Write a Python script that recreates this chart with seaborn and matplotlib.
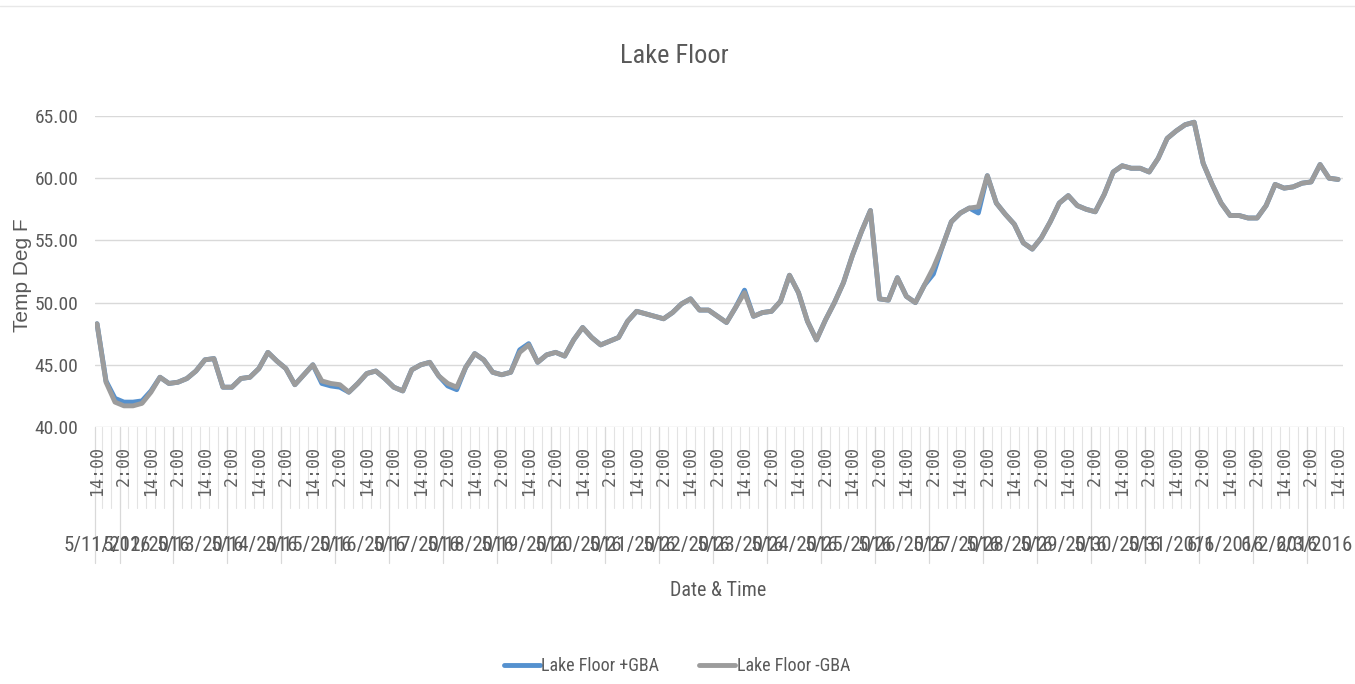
import numpy as np
import pandas as pd
import matplotlib
matplotlib.use("Agg")
import matplotlib.pyplot as plt
from matplotlib import font_manager
from matplotlib.lines import Line2D
from matplotlib.transforms import blended_transform_factory
import seaborn as sns

# Lake floor temperature (deg F), one reading every 4 hours from 5/11/2016 14:00
start_time = "2016-05-11 14:00"
step = "4h"
temp_minus_gba = [
    48.3, 43.6, 42.0, 41.7, 41.7, 41.9, 42.8, 44.0, 43.5, 43.6,
    43.9, 44.5, 45.4, 45.5, 43.2, 43.2, 43.9, 44.0, 44.7, 46.0,
    45.3, 44.7, 43.4, 44.2, 45.0, 43.7, 43.5, 43.4, 42.8, 43.5,
    44.3, 44.5, 43.9, 43.2, 42.9, 44.6, 45.0, 45.2, 44.1, 43.5,
    43.2, 44.8, 45.9, 45.4, 44.4, 44.2, 44.4, 46.0, 46.6, 45.2,
    45.8, 46.0, 45.7, 47.0, 48.0, 47.2, 46.6, 46.9, 47.2, 48.5,
    49.3, 49.1, 48.9, 48.7, 49.2, 49.9, 50.3, 49.4, 49.4, 48.9,
    48.4, 49.6, 50.8, 48.9, 49.2, 49.3, 50.1, 52.2, 50.8, 48.5,
    47.0, 48.6, 50.0, 51.6, 53.8, 55.7, 57.4, 50.3, 50.2, 52.0,
    50.5, 50.0, 51.4, 52.8, 54.5, 56.5, 57.2, 57.6, 57.7, 60.2,
    58.0, 57.1, 56.3, 54.8, 54.3, 55.2, 56.5, 58.0, 58.6, 57.8,
    57.5, 57.3, 58.7, 60.5, 61.0, 60.8, 60.8, 60.5, 61.6, 63.2,
    63.8, 64.3, 64.5, 61.2, 59.5, 58.0, 57.0, 57.0, 56.8, 56.8,
    57.8, 59.5, 59.2, 59.3, 59.6, 59.7, 61.1, 60.0, 59.9,
]
temp_plus_gba = [
    48.3, 43.7, 42.3, 42.0, 42.0, 42.1, 42.9, 44.0, 43.5, 43.6,
    43.9, 44.5, 45.4, 45.5, 43.2, 43.2, 43.9, 44.0, 44.7, 46.0,
    45.3, 44.7, 43.4, 44.2, 45.0, 43.5, 43.3, 43.2, 42.8, 43.5,
    44.3, 44.5, 43.9, 43.2, 42.9, 44.6, 45.0, 45.2, 44.1, 43.3,
    43.0, 44.8, 45.9, 45.4, 44.4, 44.2, 44.4, 46.2, 46.7, 45.2,
    45.8, 46.0, 45.7, 47.0, 48.0, 47.2, 46.6, 46.9, 47.2, 48.5,
    49.3, 49.1, 48.9, 48.7, 49.2, 49.9, 50.3, 49.4, 49.4, 48.9,
    48.4, 49.6, 51.0, 48.9, 49.2, 49.3, 50.1, 52.2, 50.8, 48.5,
    47.0, 48.6, 50.0, 51.6, 53.8, 55.7, 57.4, 50.3, 50.2, 52.0,
    50.5, 50.0, 51.4, 52.3, 54.5, 56.5, 57.2, 57.6, 57.2, 60.2,
    58.0, 57.1, 56.3, 54.8, 54.3, 55.2, 56.5, 58.0, 58.6, 57.8,
    57.5, 57.3, 58.7, 60.5, 61.0, 60.8, 60.8, 60.5, 61.6, 63.2,
    63.8, 64.3, 64.5, 61.2, 59.5, 58.0, 57.0, 57.0, 56.8, 56.8,
    57.8, 59.5, 59.2, 59.3, 59.6, 59.7, 61.1, 60.0, 59.9,
]
series_names = ["Lake Floor +GBA", "Lake Floor -GBA"]
series_colors = ["#5591cf", "#9c9c9c"]
y_ticks = [40, 45, 50, 55, 60, 65]
label_hours = [2, 14]

sns.set_theme(style="white")

available = {f.name for f in font_manager.fontManager.ttflist}
candidates = ["Liberation Sans Narrow", "Roboto Condensed", "Open Sans Condensed",
              "DejaVu Sans Condensed", "Arial Narrow", "Roboto", "Lato"]
narrow = next((c for c in candidates if c in available), "DejaVu Sans")
is_narrow = narrow in candidates[:5]
plt.rcParams["font.family"] = [narrow, "DejaVu Sans"]
k = 1.0 if is_narrow else 0.86  # size factor for wider faces

times = pd.date_range(start_time, periods=len(temp_minus_gba), freq=step)
t0 = times[0]
hours = (times - t0) / pd.Timedelta(hours=1)

df = pd.concat([
    pd.DataFrame({"hours": hours, "temp": temp_plus_gba, "series": series_names[0]}),
    pd.DataFrame({"hours": hours, "temp": temp_minus_gba, "series": series_names[1]}),
])

W, H = 1355, 684
fig = plt.figure(figsize=(W / 100, H / 100), dpi=100)
ax = fig.add_axes([95 / W, 1 - 427 / H, (1343 - 95) / W, (427 - 116) / H])

sns.lineplot(data=df, x="hours", y="temp", hue="series", hue_order=series_names,
             palette=series_colors, linewidth=3.5, legend=False, ax=ax,
             solid_joinstyle="round", solid_capstyle="round")

x_min, x_max = -0.9, hours[-1] + 2.2
ax.set_xlim(x_min, x_max)
ax.set_ylim(40, 65)
ax.set_yticks(y_ticks)
ax.set_yticklabels([f"{v:.2f}" for v in y_ticks], fontsize=14 * k, color="#595959")
ax.tick_params(axis="y", length=0, pad=12)
ax.set_xticks([])
ax.set_xlabel("")
ax.set_ylabel("")
for s in ax.spines.values():
    s.set_visible(False)
for v in y_ticks:
    ax.axhline(v, color="#d9d9d9", lw=1.0, zorder=0)

# category axis: time labels, tick lines and date groups
tr = blended_transform_factory(ax.transData, fig.transFigure)
fy = lambda px: 1 - px / H
for h, ts in zip(hours, times):
    if ts.minute == 0 and ts.hour in label_hours:
        ax.text(h, fy(446), f"{ts.hour}:00", transform=tr, rotation=90,
                ha="center", va="top", fontsize=12, color="#606060",
                family="DejaVu Sans Mono", clip_on=False)
    ax.add_line(Line2D([h + 2, h + 2], [fy(427), fy(508)], transform=tr,
                       color="#e3e3e3", lw=0.8, clip_on=False))

days = pd.date_range(t0.normalize(), times[-1].normalize(), freq="D")
for i, d in enumerate(days):
    a = max((d - t0) / pd.Timedelta(hours=1), x_min)
    b = min((d + pd.Timedelta(days=1) - t0) / pd.Timedelta(hours=1), x_max)
    ax.add_line(Line2D([a, a], [fy(427), fy(563)], transform=tr,
                       color="#d9d9d9", lw=0.9, clip_on=False))
    label = f"{d.month}/{d.day}/{d.year}"
    if i == len(days) - 1:
        # last group is narrow: keep its label inside the figure
        ax.annotate(label, xy=(b, fy(546)), xycoords=tr, xytext=(7, 0),
                    textcoords="offset points", ha="right", va="center",
                    fontsize=15 * k, color="#595959", annotation_clip=False)
    else:
        ax.text((a + b) / 2, fy(546), label, transform=tr, ha="center",
                va="center", fontsize=15 * k, color="#595959", clip_on=False)

fig.text(674 / W, fy(56), "Lake Floor", ha="center", va="center",
         fontsize=19 * k, color="#595959")
fig.text(718 / W, fy(590), "Date & Time", ha="center", va="center",
         fontsize=14.5 * k, color="#595959")
fig.text(23 / W, fy(275), "Temp Deg F", ha="center", va="center", rotation=90,
         fontsize=15, color="#595959", family=["Liberation Sans", "DejaVu Sans"])

handles = [Line2D([], [], color=c, lw=3.5) for c in series_colors]
fig.legend(handles, series_names, loc="center", bbox_to_anchor=(677 / W, fy(666)),
           ncol=2, frameon=False, fontsize=13 * k, handlelength=2.0, handletextpad=0.1,
           columnspacing=2.2, labelcolor="#595959")

fig.add_artist(Line2D([0, 1], [fy(6), fy(6)], color="#e8e8e8", lw=1.0))

fig.savefig("out.png", dpi=100, facecolor="white")
